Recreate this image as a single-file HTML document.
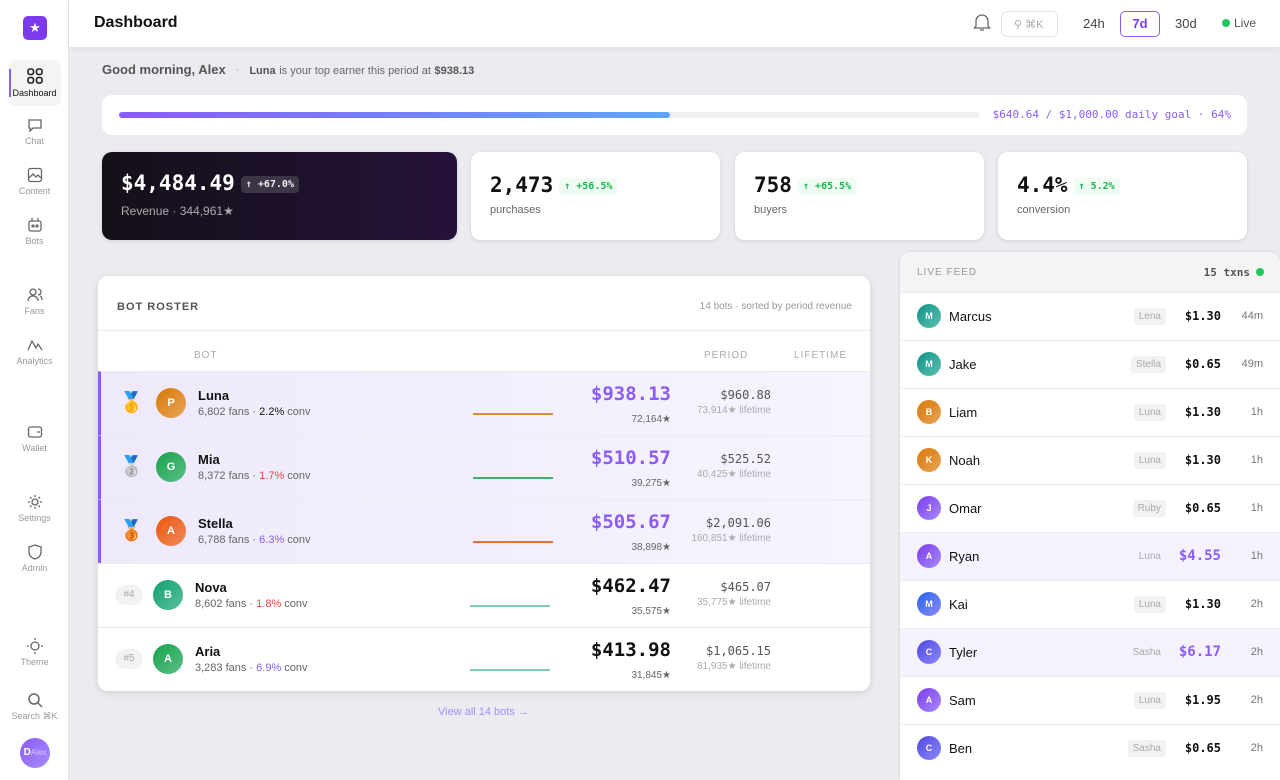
<!DOCTYPE html>
<html><head><meta charset="utf-8"><style>
*{box-sizing:border-box;margin:0;padding:0}
body{width:1280px;height:780px;overflow:hidden;background:#ececf0;font-family:"Liberation Sans",sans-serif;position:relative;color:#111}
.mono{font-family:"DejaVu Sans Mono","Liberation Mono",monospace}
.abs{position:absolute}
.side{left:0;top:0;width:69px;height:780px;background:#fff;border-right:1px solid #e4e4ea}
.nav{position:absolute;left:0;width:69px;text-align:center;font-size:9px;color:#999}
.nav svg{display:block;margin:0 auto 3px}
.hdr{left:69px;top:0;width:1211px;height:47px;background:#fff;box-shadow:0 2px 6px rgba(0,0,0,.06)}
.card{background:#fff;border-radius:10px;box-shadow:0 1px 4px rgba(0,0,0,.12)}
.big{font-weight:bold;font-size:21px}
.pill{display:inline-block;font-size:10px;font-weight:bold;padding:3px 5px;border-radius:4px;background:#eefcf2;color:#1bb452;vertical-align:3px;margin-left:6px}
.row{position:absolute;left:0;width:772px;height:64px;border-top:1px solid #ececf0}
.row.top{background:linear-gradient(90deg,#eeeafc,#f6f4fd);border-left:3px solid #8b5cf6}
.av{position:absolute;width:30px;height:30px;border-radius:50%;color:#fff;font-size:11px;font-weight:bold;text-align:center;line-height:30px}
.nm{position:absolute;font-size:13px;font-weight:bold}
.sub{position:absolute;font-size:11px;color:#666}
.spark{position:absolute;left:372px;top:41px;width:80px;height:2px}
.pr{position:absolute;right:199px;top:11px;font-size:19px;font-weight:bold;text-align:right}
.ps{position:absolute;right:199px;top:42px;font-size:10px;color:#666}
.lt{position:absolute;right:99px;top:16px;font-size:12px;color:#555;text-align:right}
.ls{position:absolute;right:99px;top:33px;font-size:10px;color:#aaa}
.feed{left:900px;top:252px;width:380px;height:528px;background:#fff;border-radius:10px 10px 0 0;box-shadow:0 0 3px rgba(0,0,0,.12)}
.fr{position:absolute;left:0;width:380px;height:48px;border-top:1px solid #ececf0}
.fr .av{left:17px;top:11px;width:24px;height:24px;line-height:24px;font-size:9px}
.fr .n{position:absolute;left:49px;top:16px;font-size:13px}
.fr .tag{position:absolute;right:114px;top:15px;font-size:10px;color:#aaa;background:#f2f2f4;padding:3px 5px;border-radius:3px}
.fr .amt{position:absolute;right:59px;top:16px;font-size:12px;font-weight:bold}
.fr .t{position:absolute;right:17px;top:17px;font-size:11px;color:#777}
.fr.hl{background:#f5f2fd}
.fr.hl .amt{color:#8b5cf6}
</style></head><body>
<div class="abs side">
 <div class="abs" style="left:23px;top:16px;width:24px;height:24px;background:#7c3aed;border-radius:5px;color:#fff;text-align:center;line-height:24px;font-size:13px">★</div>
 <div class="abs" style="left:9px;top:60px;width:52px;height:46px;background:#f4f4f6;border-radius:7px"></div>
 <div class="abs" style="left:9px;top:69px;width:2px;height:28px;background:#8b5cf6"></div>
 <div class="nav" style="top:67px;color:#111"><svg width="18" height="18" viewBox="0 0 18 18" fill="none" stroke="#222" stroke-width="1.6"><rect x="2" y="2" width="5.5" height="5.5" rx="2"/><rect x="10.5" y="2" width="5.5" height="5.5" rx="2"/><rect x="2" y="10.5" width="5.5" height="5.5" rx="2"/><rect x="10.5" y="10.5" width="5.5" height="5.5" rx="2"/></svg>Dashboard</div>
 <div class="nav" style="top:117px"><svg width="16" height="16" viewBox="0 0 16 16" fill="none" stroke="#666" stroke-width="1.3"><path d="M2 3h12v8H6l-3 3v-3H2z"/></svg>Chat</div>
 <div class="nav" style="top:167px"><svg width="16" height="16" viewBox="0 0 16 16" fill="none" stroke="#666" stroke-width="1.3"><rect x="1.5" y="1.5" width="13" height="13" rx="2"/><path d="M2 11l4-4 3 3 2-2 3 3"/></svg>Content</div>
 <div class="nav" style="top:217px"><svg width="16" height="16" viewBox="0 0 16 16" fill="none" stroke="#666" stroke-width="1.3"><rect x="2" y="4" width="12" height="10" rx="2"/><path d="M5 1v3M11 1v3"/><circle cx="6" cy="9" r="1"/><circle cx="10" cy="9" r="1"/></svg>Bots</div>
 <div class="nav" style="top:287px"><svg width="16" height="16" viewBox="0 0 16 16" fill="none" stroke="#666" stroke-width="1.3"><circle cx="6" cy="5" r="3"/><path d="M1 14c0-3 2-5 5-5s5 2 5 5M11 2a3 3 0 010 6M13 9c1.5.5 2 2 2 4"/></svg>Fans</div>
 <div class="nav" style="top:337px"><svg width="16" height="16" viewBox="0 0 16 16" fill="none" stroke="#666" stroke-width="1.3"><path d="M1 13l4-9 4 7 2-4 4 6"/></svg>Analytics</div>
 <div class="nav" style="top:424px"><svg width="16" height="16" viewBox="0 0 16 16" fill="none" stroke="#666" stroke-width="1.3"><rect x="1.5" y="3" width="13" height="10" rx="2"/><path d="M10 8h3"/></svg>Wallet</div>
 <div class="nav" style="top:494px"><svg width="16" height="16" viewBox="0 0 16 16" fill="none" stroke="#666" stroke-width="1.3"><circle cx="8" cy="8" r="3"/><path d="M8 1v2M8 13v2M1 8h2M13 8h2M3 3l1.5 1.5M11.5 11.5L13 13M3 13l1.5-1.5M11.5 4.5L13 3"/></svg>Settings</div>
 <div class="nav" style="top:544px"><svg width="16" height="16" viewBox="0 0 16 16" fill="none" stroke="#666" stroke-width="1.3"><path d="M8 1l6 2v5c0 4-3 6-6 7-3-1-6-3-6-7V3z"/></svg>Admin</div>
 <div class="nav" style="top:638px"><svg width="16" height="16" viewBox="0 0 16 16" fill="none" stroke="#666" stroke-width="1.3"><circle cx="8" cy="8" r="4"/><path d="M8 0v2M8 14v2M0 8h2M14 8h2"/></svg>Theme</div>
 <div class="nav" style="top:692px"><svg width="16" height="16" viewBox="0 0 16 16" fill="none" stroke="#666" stroke-width="1.5"><circle cx="7" cy="7" r="5"/><path d="M11 11l4 4"/></svg>Search ⌘K</div>
 <div class="abs" style="left:20px;top:738px;width:30px;height:30px;border-radius:50%;background:linear-gradient(135deg,#8b5cf6,#a78bfa);color:#fff;font-size:10px;font-weight:bold;line-height:30px;text-align:center">D<span style="font-size:8px;font-weight:normal;opacity:.6">Alex</span></div>
</div>
<div class="abs hdr">
 <div class="abs" style="left:25px;top:14px;font-size:16px;font-weight:bold">Dashboard</div>
 <svg class="abs" style="left:904px;top:12px" width="18" height="20" viewBox="0 0 18 20" fill="none" stroke="#666" stroke-width="1.3"><path d="M3 14V9a6 6 0 0112 0v5l1.5 2h-15zM7 18h4"/></svg>
 <div class="abs" style="left:932px;top:11px;width:57px;height:26px;border:1px solid #e4e4ea;border-radius:6px;font-size:11px;color:#aaa;padding:6px 0 0 12px">⚲ ⌘K</div>
 <div class="abs" style="left:1014px;top:16px;font-size:13px;color:#444">24h</div>
 <div class="abs" style="left:1051px;top:11px;width:40px;height:26px;border:1.5px solid #8b5cf6;border-radius:5px;font-size:13px;color:#7c3aed;font-weight:bold;text-align:center;line-height:23px">7d</div>
 <div class="abs" style="left:1106px;top:16px;font-size:13px;color:#444">30d</div>
 <div class="abs" style="left:1153px;top:19px;width:8px;height:8px;border-radius:50%;background:#22c55e"></div>
 <div class="abs" style="left:1165px;top:16px;font-size:12px;color:#555">Live</div>
</div>
<div class="abs" style="left:102px;top:62px;font-size:13px;color:#555;font-weight:bold">Good morning, Alex <span style="color:#aaa;font-weight:normal;margin:0 6px">·</span> <span style="font-size:11px;color:#555">Luna</span> <span style="font-size:11px;font-weight:normal;color:#666">is your top earner this period at</span> <span style="font-size:11px">$938.13</span></div>
<div class="abs card" style="left:102px;top:95px;width:1145px;height:40px;box-shadow:none">
 <div class="abs" style="left:17px;top:17px;width:860px;height:6px;background:#f0f0f3;border-radius:3px"></div>
 <div class="abs" style="left:17px;top:17px;width:551px;height:6px;background:linear-gradient(90deg,#8b5cf6,#60a5fa);border-radius:3px"></div>
 <div class="abs mono" style="right:16px;top:13px;font-size:11px;color:#8b5cf6">$640.64 / $1,000.00 daily goal · 64%</div>
</div>
<div class="abs card" style="left:102px;top:152px;width:355px;height:88px;background:linear-gradient(90deg,#141018,#25123a)">
 <div class="abs mono" style="left:19px;top:19px;font-size:21px;font-weight:bold;color:#fff;white-space:nowrap">$4,484.49<span class="pill" style="background:#3b3545;color:#eee">↑ +67.0%</span></div>
 <div class="abs" style="left:19px;top:52px;font-size:12px;color:#aaa">Revenue · 344,961★</div>
</div>
<div class="abs card" style="left:471px;top:152px;width:249px;height:88px"><div class="abs mono big" style="left:19px;top:21px">2,473<span class="pill">↑ +56.5%</span></div><div class="abs" style="left:19px;top:52px;font-size:11px;color:#666">purchases</div></div>
<div class="abs card" style="left:735px;top:152px;width:249px;height:88px"><div class="abs mono big" style="left:19px;top:21px">758<span class="pill">↑ +65.5%</span></div><div class="abs" style="left:19px;top:52px;font-size:11px;color:#666">buyers</div></div>
<div class="abs card" style="left:998px;top:152px;width:249px;height:88px"><div class="abs mono big" style="left:19px;top:21px">4.4%<span class="pill">↑ 5.2%</span></div><div class="abs" style="left:19px;top:52px;font-size:11px;color:#666">conversion</div></div>

<div class="abs card" style="left:98px;top:276px;width:772px;height:415px;overflow:hidden;box-shadow:0 2px 8px rgba(0,0,0,.12)">
 <div class="abs" style="left:19px;top:25px;font-size:11px;font-weight:bold;color:#555;letter-spacing:1px">BOT ROSTER</div>
 <div class="abs" style="right:18px;top:25px;font-size:10px;color:#999">14 bots · sorted by period revenue</div>
 <div class="abs" style="left:0;top:54px;width:772px;border-top:1px solid #ececf0"></div>
 <div class="abs" style="left:96px;top:74px;font-size:10px;color:#aaa;letter-spacing:1px">BOT</div>
 <div class="abs" style="left:606px;top:74px;font-size:10px;color:#aaa;letter-spacing:1px">PERIOD</div>
 <div class="abs" style="left:696px;top:74px;font-size:10px;color:#aaa;letter-spacing:1px">LIFETIME</div>

 <div class="row top" style="top:95px"><div class="abs" style="left:18px;top:18px;font-size:20px">🥇</div><div class="av" style="left:55px;top:16px;background:linear-gradient(135deg,#d97706,#e8a55a)">P</div><div class="nm" style="left:97px;top:16px">Luna</div><div class="sub" style="left:97px;top:34px">6,802 fans · <b style="color:#111;font-weight:normal">2.2%</b> conv</div><div class="spark" style="background:#d98a3a"></div><div class="pr mono" style="color:#8b5cf6">$938.13</div><div class="ps">72,164★</div><div class="lt mono">$960.88</div><div class="ls">73,914★ lifetime</div></div>
 <div class="row top" style="top:159px"><div class="abs" style="left:18px;top:18px;font-size:20px">🥈</div><div class="av" style="left:55px;top:16px;background:linear-gradient(135deg,#16a34a,#5cc08a)">G</div><div class="nm" style="left:97px;top:16px">Mia</div><div class="sub" style="left:97px;top:34px">8,372 fans · <span style="color:#ef4444">1.7%</span> conv</div><div class="spark" style="background:#3fae6a"></div><div class="pr mono" style="color:#8b5cf6">$510.57</div><div class="ps">39,275★</div><div class="lt mono">$525.52</div><div class="ls">40,425★ lifetime</div></div>
 <div class="row top" style="top:223px"><div class="abs" style="left:18px;top:18px;font-size:20px">🥉</div><div class="av" style="left:55px;top:16px;background:linear-gradient(135deg,#ea580c,#f08a5a)">A</div><div class="nm" style="left:97px;top:16px">Stella</div><div class="sub" style="left:97px;top:34px">6,788 fans · <span style="color:#8b5cf6">6.3%</span> conv</div><div class="spark" style="background:#e0703c"></div><div class="pr mono" style="color:#8b5cf6">$505.67</div><div class="ps">38,898★</div><div class="lt mono">$2,091.06</div><div class="ls">160,851★ lifetime</div></div>
 <div class="row" style="top:287px"><div class="abs" style="left:17px;top:21px;width:28px;height:20px;border-radius:10px;background:#f2f2f4;font-size:10px;color:#aaa;text-align:center;line-height:20px">#4</div><div class="av" style="left:55px;top:16px;background:linear-gradient(135deg,#0f9f6e,#5cc0a0)">B</div><div class="nm" style="left:97px;top:16px">Nova</div><div class="sub" style="left:97px;top:34px">8,602 fans · <span style="color:#ef4444">1.8%</span> conv</div><div class="spark" style="background:#7fcfae"></div><div class="pr mono">$462.47</div><div class="ps">35,575★</div><div class="lt mono">$465.07</div><div class="ls">35,775★ lifetime</div></div>
 <div class="row" style="top:351px"><div class="abs" style="left:17px;top:21px;width:28px;height:20px;border-radius:10px;background:#f2f2f4;font-size:10px;color:#aaa;text-align:center;line-height:20px">#5</div><div class="av" style="left:55px;top:16px;background:linear-gradient(135deg,#16a34a,#5cc08a)">A</div><div class="nm" style="left:97px;top:16px">Aria</div><div class="sub" style="left:97px;top:34px">3,283 fans · <span style="color:#8b5cf6">6.9%</span> conv</div><div class="spark" style="background:#7fcfae"></div><div class="pr mono">$413.98</div><div class="ps">31,845★</div><div class="lt mono">$1,065.15</div><div class="ls">81,935★ lifetime</div></div>
</div>
<div class="abs" style="left:438px;top:706px;font-size:11px;color:#a78bfa">View all 14 bots →</div>

<div class="abs feed">
 <div class="abs" style="left:0;top:0;width:380px;height:40px;background:#f4f4f6;border-radius:10px 10px 0 0"></div>
 <div class="abs" style="left:17px;top:15px;font-size:10px;color:#999;letter-spacing:1px">LIVE FEED</div>
 <div class="abs mono" style="right:30px;top:14px;font-size:11px;color:#555;font-weight:bold">15 txns</div>
 <div class="abs" style="right:16px;top:16px;width:8px;height:8px;border-radius:50%;background:#22c55e"></div>
 <div class="fr" style="top:40px"><div class="av" style="background:linear-gradient(135deg,#0f9488,#5cc0b0)">M</div><div class="n">Marcus</div><div class="tag">Lena</div><div class="amt mono">$1.30</div><div class="t">44m</div></div>
 <div class="fr" style="top:88px"><div class="av" style="background:linear-gradient(135deg,#0f9488,#5cc0b0)">M</div><div class="n">Jake</div><div class="tag">Stella</div><div class="amt mono">$0.65</div><div class="t">49m</div></div>
 <div class="fr" style="top:136px"><div class="av" style="background:linear-gradient(135deg,#d97706,#e8a55a)">B</div><div class="n">Liam</div><div class="tag">Luna</div><div class="amt mono">$1.30</div><div class="t">1h</div></div>
 <div class="fr" style="top:184px"><div class="av" style="background:linear-gradient(135deg,#d97706,#e8a55a)">K</div><div class="n">Noah</div><div class="tag">Luna</div><div class="amt mono">$1.30</div><div class="t">1h</div></div>
 <div class="fr" style="top:232px"><div class="av" style="background:linear-gradient(135deg,#7c3aed,#a78bfa)">J</div><div class="n">Omar</div><div class="tag">Ruby</div><div class="amt mono">$0.65</div><div class="t">1h</div></div>
 <div class="fr hl" style="top:280px"><div class="av" style="background:linear-gradient(135deg,#7c3aed,#a78bfa)">A</div><div class="n">Ryan</div><div class="tag" style="background:none">Luna</div><div class="amt mono" style="font-size:14px;top:15px">$4.55</div><div class="t">1h</div></div>
 <div class="fr" style="top:328px"><div class="av" style="background:linear-gradient(135deg,#2563eb,#8b8bf6)">M</div><div class="n">Kai</div><div class="tag">Luna</div><div class="amt mono">$1.30</div><div class="t">2h</div></div>
 <div class="fr hl" style="top:376px"><div class="av" style="background:linear-gradient(135deg,#4f46e5,#8b8bf6)">C</div><div class="n">Tyler</div><div class="tag" style="background:none">Sasha</div><div class="amt mono" style="font-size:14px;top:15px">$6.17</div><div class="t">2h</div></div>
 <div class="fr" style="top:424px"><div class="av" style="background:linear-gradient(135deg,#7c3aed,#a78bfa)">A</div><div class="n">Sam</div><div class="tag">Luna</div><div class="amt mono">$1.95</div><div class="t">2h</div></div>
 <div class="fr" style="top:472px"><div class="av" style="background:linear-gradient(135deg,#4f46e5,#8b8bf6)">C</div><div class="n">Ben</div><div class="tag">Sasha</div><div class="amt mono">$0.65</div><div class="t">2h</div></div>
</div>
</body></html>
